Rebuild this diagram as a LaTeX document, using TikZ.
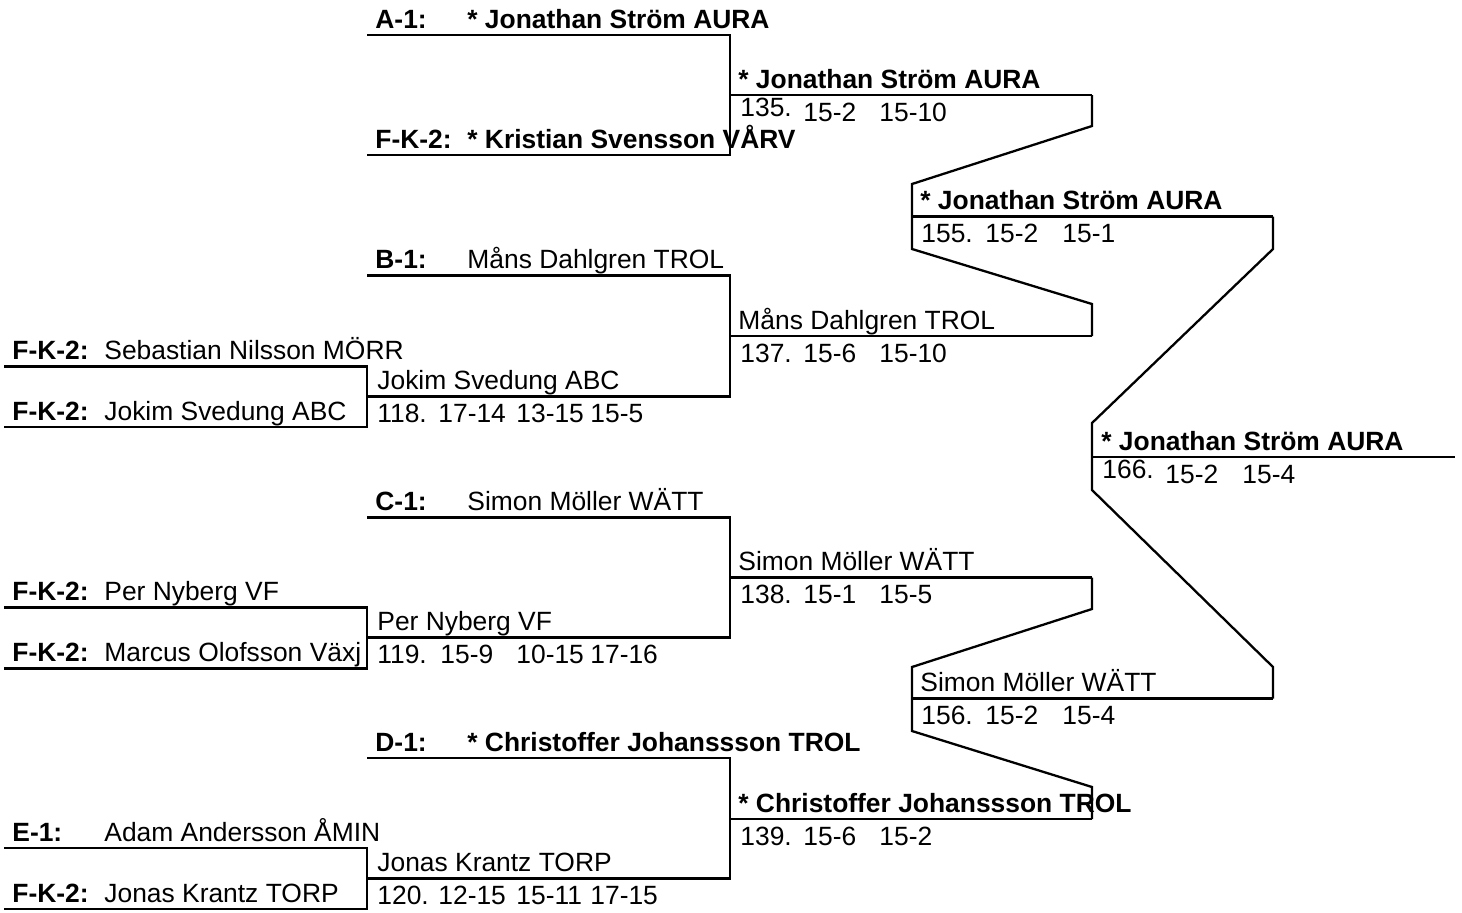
\documentclass[tikz,border=0pt]{standalone}
\usepackage{fontspec}
\setmainfont{Liberation Sans}
\begin{document}
\begin{tikzpicture}[x=0.5pt,y=-0.5pt,
  ln/.style={line width=1.15pt,line join=miter},
  txt/.style={anchor=base west,inner sep=0pt,font=\fontsize{13.2}{15}\selectfont},
  bt/.style={anchor=base west,inner sep=0pt,font=\fontsize{13.2}{15}\selectfont\bfseries}]
\useasboundingbox (0,0) rectangle (1462,912);
% column x positions
\def\XA{4}\def\XB{367}\def\XC{730}\def\XD{912}\def\XE{1092}\def\XF{1273}\def\XG{1455}
% ---------- coordinates ----------
% column 0
\coordinate (p1L) at (\XA,366.5); \coordinate (p1R) at (\XB,366.5);
\coordinate (p2L) at (\XA,427);   \coordinate (p2R) at (\XB,427);
\coordinate (p3L) at (\XA,607.5); \coordinate (p3R) at (\XB,607.5);
\coordinate (p4L) at (\XA,668.5); \coordinate (p4R) at (\XB,668.5);
\coordinate (p5L) at (\XA,848);   \coordinate (p5R) at (\XB,848);
\coordinate (p6L) at (\XA,909);   \coordinate (p6R) at (\XB,909);
% column 1
\coordinate (aL) at (\XB,35);    \coordinate (aR) at (\XC,35);
\coordinate (kL) at (\XB,155);   \coordinate (kR) at (\XC,155);
\coordinate (bL) at (\XB,275.5); \coordinate (bR) at (\XC,275.5);
\coordinate (m118L) at (\XB,396.5); \coordinate (m118R) at (\XC,396.5);
\coordinate (cL) at (\XB,517.5); \coordinate (cR) at (\XC,517.5);
\coordinate (m119L) at (\XB,637.5); \coordinate (m119R) at (\XC,637.5);
\coordinate (dL) at (\XB,758);   \coordinate (dR) at (\XC,758);
\coordinate (m120L) at (\XB,878.5); \coordinate (m120R) at (\XC,878.5);
% column 2
\coordinate (m135L) at (\XC,95);    \coordinate (m135R) at (\XE,95);
\coordinate (m137L) at (\XC,336);   \coordinate (m137R) at (\XE,336);
\coordinate (m138L) at (\XC,577.5); \coordinate (m138R) at (\XE,577.5);
\coordinate (m139L) at (\XC,819);   \coordinate (m139R) at (\XE,819);
% column 3
\coordinate (m155L) at (\XD,216.5); \coordinate (m155R) at (\XF,216.5);
\coordinate (m156L) at (\XD,698.5); \coordinate (m156R) at (\XF,698.5);
% column 4
\coordinate (m166L) at (\XE,457);   \coordinate (m166R) at (\XG,457);
% ---------- lines ----------
\draw[ln] (p1L) -- (p1R) -- (p2R) -- (p2L);
\draw[ln] (p3L) -- (p3R) -- (p4R) -- (p4L);
\draw[ln] (p5L) -- (p5R) -- (p6R) -- (p6L);
\draw[ln] (aL) -- (aR) -- (kR) -- (kL);
\draw[ln] (bL) -- (bR) -- (m118R) -- (m118L);
\draw[ln] (cL) -- (cR) -- (m119R) -- (m119L);
\draw[ln] (dL) -- (dR) -- (m120R) -- (m120L);
\draw[ln] (m135L) -- (m135R);
\draw[ln] (m137L) -- (m137R);
\draw[ln] (m138L) -- (m138R);
\draw[ln] (m139L) -- (m139R);
\draw[ln] (m155L) -- (m155R);
\draw[ln] (m156L) -- (m156R);
\draw[ln] (m166L) -- (m166R);
% slanted connectors
\draw[ln] (m135R) -- ++(0,31) -- (\XD,184) -- (\XD,249) -- (\XE,304) -- (m137R);
\draw[ln] (m138R) -- ++(0,31.5) -- (\XD,667) -- (\XD,731) -- (\XE,787) -- (m139R);
\draw[ln] (m155R) -- ++(0,32.5) -- (\XE,423) -- (\XE,490) -- (\XF,667) -- (m156R);
% ---------- texts column 0 ----------
\node[bt]  (t1a) at (12,359.5) {F-K-2:};  \node[txt] (t1b) at (104,359.5) {Sebastian Nilsson MÖRR};
\node[bt]  (t2a) at (12,420)   {F-K-2:};  \node[txt] (t2b) at (104,420)   {Jokim Svedung ABC};
\node[bt]  (t3a) at (12,600.5) {F-K-2:};  \node[txt] (t3b) at (104,600.5) {Per Nyberg VF};
\node[bt]  (t4a) at (12,661.5) {F-K-2:};  \node[txt] (t4b) at (104,661.5) {Marcus Olofsson Växj};
\node[bt]  (t5a) at (12,841)   {E-1:};    \node[txt] (t5b) at (104,841)   {Adam Andersson ÅMIN};
\node[bt]  (t6a) at (12,902)   {F-K-2:};  \node[txt] (t6b) at (104,902)   {Jonas Krantz TORP};
% ---------- texts column 1 ----------
\node[bt] (u1a) at (375,28)    {A-1:};   \node[bt]  (u1b) at (467,28)    {* Jonathan Ström AURA};
\node[bt] (u2a) at (375,148)   {F-K-2:}; \node[bt]  (u2b) at (467,148)   {* Kristian Svensson VÅRV};
\node[bt] (u3a) at (375,268.5) {B-1:};   \node[txt] (u3b) at (467,268.5) {Måns Dahlgren TROL};
\node[bt] (u4a) at (375,510.5) {C-1:};   \node[txt] (u4b) at (467,510.5) {Simon Möller WÄTT};
\node[bt] (u5a) at (375,751)   {D-1:};   \node[bt]  (u5b) at (467,751)   {* Christoffer Johanssson TROL};
\node[txt] (w118) at (377,389.5) {Jokim Svedung ABC};
\node[txt] (s118a) at (377,422.5) {118.}; \node[txt] (s118b) at (438,422.5) {17-14};
\node[txt] (s118c) at (516,422.5) {13-15}; \node[txt] (s118d) at (590,422.5) {15-5};
\node[txt] (w119) at (377,630.5) {Per Nyberg VF};
\node[txt] (s119a) at (377,663.5) {119.}; \node[txt] (s119b) at (440,663.5) {15-9};
\node[txt] (s119c) at (516,663.5) {10-15}; \node[txt] (s119d) at (590,663.5) {17-16};
\node[txt] (w120) at (377,871.5) {Jonas Krantz TORP};
\node[txt] (s120a) at (377,904.5) {120.}; \node[txt] (s120b) at (438,904.5) {12-15};
\node[txt] (s120c) at (516,904.5) {15-11}; \node[txt] (s120d) at (590,904.5) {17-15};
% ---------- texts column 2 ----------
\node[bt]  (w135) at (738,88) {* Jonathan Ström AURA};
\node[txt] (s135a) at (740,116.5) {135.}; \node[txt] (s135b) at (803,121) {15-2}; \node[txt] (s135c) at (879,121) {15-10};
\node[txt] (w137) at (738,329) {Måns Dahlgren TROL};
\node[txt] (s137a) at (740,362) {137.}; \node[txt] (s137b) at (803,362) {15-6}; \node[txt] (s137c) at (879,362) {15-10};
\node[txt] (w138) at (738,570.5) {Simon Möller WÄTT};
\node[txt] (s138a) at (740,603.5) {138.}; \node[txt] (s138b) at (803,603.5) {15-1}; \node[txt] (s138c) at (879,603.5) {15-5};
\node[bt]  (w139) at (738,812) {* Christoffer Johanssson TROL};
\node[txt] (s139a) at (740,845) {139.}; \node[txt] (s139b) at (803,845) {15-6}; \node[txt] (s139c) at (879,845) {15-2};
% ---------- texts column 3 ----------
\node[bt]  (w155) at (920,209.5) {* Jonathan Ström AURA};
\node[txt] (s155a) at (921,242.5) {155.}; \node[txt] (s155b) at (985,242.5) {15-2}; \node[txt] (s155c) at (1062,242.5) {15-1};
\node[txt] (w156) at (920,691.5) {Simon Möller WÄTT};
\node[txt] (s156a) at (921,724.5) {156.}; \node[txt] (s156b) at (985,724.5) {15-2}; \node[txt] (s156c) at (1062,724.5) {15-4};
% ---------- texts column 4 ----------
\node[bt]  (w166) at (1101,450) {* Jonathan Ström AURA};
\node[txt] (s166a) at (1102,478.5) {166.}; \node[txt] (s166b) at (1165,483) {15-2}; \node[txt] (s166c) at (1242,483) {15-4};
\end{tikzpicture}
\end{document}
